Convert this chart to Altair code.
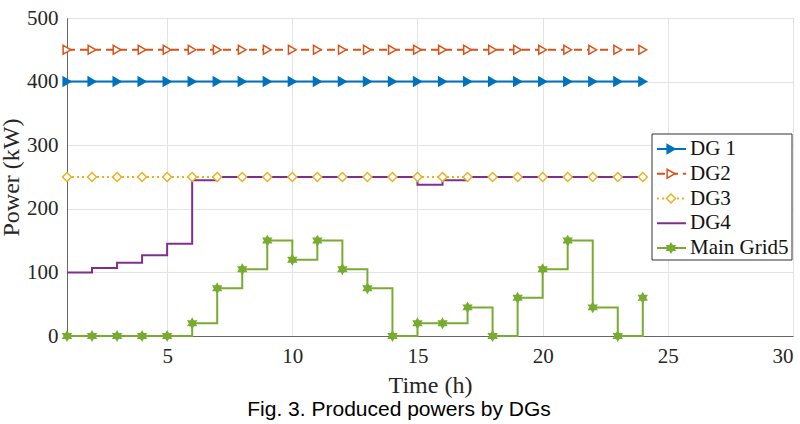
import altair as alt
import pandas as pd

# ---- data ----
hours = list(range(1, 25))
series_names = ["DG 1", "DG2", "DG3", "DG4", "Main Grid5"]
dg1 = [400] * 24
dg2 = [450] * 24
dg3 = [250] * 24
dg4 = [100, 107, 115, 127, 145, 245, 250, 250, 250, 250, 250, 250,
       250, 250, 238, 245, 250, 250, 250, 250, 250, 250, 250, 250]
grid5 = [0, 0, 0, 0, 0, 20, 75, 105, 150, 120, 150, 105,
         75, 0, 20, 20, 45, 0, 60, 105, 150, 45, 0, 60]
x_ticks = [5, 10, 15, 20, 25, 30]
y_ticks = [0, 100, 200, 300, 400, 500]

colors = ["#0072BD", "#D95319", "#EDB120", "#7E2F8E", "#77AC30"]
fills = ["#0072BD", "#ffffff", "#ffffff", "#7E2F8E", "#77AC30"]
dashes = [[1, 0], [8, 5], [2, 3], [1, 0], [1, 0]]
hexagram = ("M0,-1L0.289,-0.5L0.866,-0.5L0.577,0L0.866,0.5L0.289,0.5L0,1"
            "L-0.289,0.5L-0.866,0.5L-0.577,0L-0.866,-0.5L-0.289,-0.5Z")
shapes = ["triangle-right", "triangle-right", "diamond", "circle", hexagram]

rows = []
for name, vals in zip(series_names, [dg1, dg2, dg3, dg4, grid5]):
    for h, v in zip(hours, vals):
        rows.append({"hour": h, "power": v, "series": name})
df = pd.DataFrame(rows)
leg = pd.DataFrame({"series": series_names})

color_scale = alt.Scale(domain=series_names, range=colors)
fill_scale = alt.Scale(domain=series_names, range=fills)
dash_scale = alt.Scale(domain=series_names, range=dashes)
shape_scale = alt.Scale(domain=series_names, range=shapes)

FONT = "Liberation Serif"
axis_style = dict(
    labelFont=FONT, labelFontSize=21, labelColor="#262626",
    titleFont=FONT, titleFontSize=24, titleFontWeight="normal", titleColor="#262626",
    gridColor="#e3e3e3", gridWidth=1, domainColor="#666666", tickSize=0,
    labelPadding=9,
)
X = alt.X("hour:Q", scale=alt.Scale(domain=[1, 30], nice=False),
          axis=alt.Axis(values=x_ticks, title="Time (h)", titlePadding=7,
                        **axis_style))
Y = alt.Y("power:Q", scale=alt.Scale(domain=[0, 500], nice=False),
          axis=alt.Axis(values=y_ticks, title="Power (kW)", titlePadding=3,
                        **axis_style))

lines = alt.Chart(df).mark_line(strokeWidth=2, interpolate="step-after").encode(
    x=X, y=Y,
    color=alt.Color("series:N", scale=color_scale, legend=None),
    strokeDash=alt.StrokeDash("series:N", scale=dash_scale, legend=None),
    detail="series:N",
)

points = alt.Chart(df).transform_filter(alt.datum.series != "DG4").mark_point(
    size=80, strokeWidth=1.5, opacity=1, fillOpacity=1
).encode(
    x=X, y=Y,
    stroke=alt.Stroke("series:N", scale=color_scale, legend=None),
    fill=alt.Fill("series:N", scale=fill_scale, legend=None),
    shape=alt.Shape("series:N", scale=shape_scale, legend=None),
)

# ---- legend box drawn as marks ----
layers = [lines, points]
layers.append(alt.Chart(pd.DataFrame({"k": [0]})).mark_rect(
    fill="white", stroke="#333333", strokeWidth=1
).encode(x=alt.value(585), x2=alt.value(725), y=alt.value(116), y2=alt.value(242)))

row_top, row_step = 131, 24.75
for i, name in enumerate(series_names):
    ypix = row_top + i * row_step
    base = alt.Chart(leg).transform_filter(alt.datum.series == name)
    layers.append(base.mark_rule(strokeWidth=2).encode(
        x=alt.value(590), x2=alt.value(619), y=alt.value(ypix),
        color=alt.Color("series:N", scale=color_scale, legend=None),
        strokeDash=alt.StrokeDash("series:N", scale=dash_scale, legend=None),
    ))
    if name != "DG4":
        layers.append(base.mark_point(
            size=80, strokeWidth=1.5, opacity=1, fillOpacity=1
        ).encode(
            x=alt.value(604), y=alt.value(ypix),
            stroke=alt.Stroke("series:N", scale=color_scale, legend=None),
            fill=alt.Fill("series:N", scale=fill_scale, legend=None),
            shape=alt.Shape("series:N", scale=shape_scale, legend=None),
        ))
    layers.append(base.mark_text(
        align="left", baseline="middle", font=FONT, fontSize=21, color="#111111"
    ).encode(x=alt.value(623), y=alt.value(ypix), text="series:N"))

chart = alt.layer(*layers).properties(
    width=726, height=318,
    autosize=alt.AutoSizeParams(type="none"),
    padding={"left": 67, "top": 18, "right": 7, "bottom": 88},
    title=alt.TitleParams("Fig. 3. Produced powers by DGs", orient="bottom",
                          anchor="middle", font="Liberation Sans", fontSize=21,
                          fontWeight="normal", color="#000000", dx=-31, offset=2),
    background="white",
).configure_view(stroke="#666666", strokeWidth=1).configure_axis(
    **axis_style
)

chart.save("out.html", embed_options={"renderer": "svg", "actions": False})
